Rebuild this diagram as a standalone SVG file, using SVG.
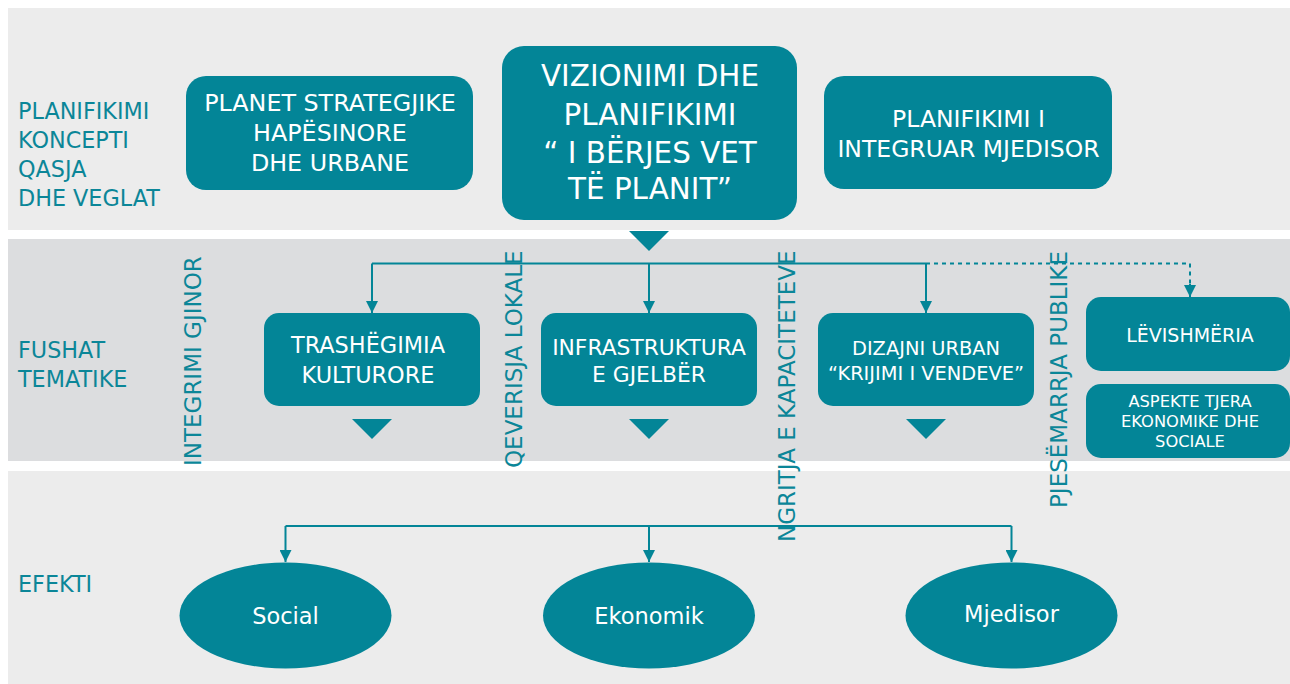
<svg xmlns="http://www.w3.org/2000/svg" width="1290" height="684" viewBox="0 0 1290 684">
<defs>
<style>
.band1{fill:#ececec}
.band2{fill:#dcdddf}
.box{fill:#038597}
.lbl{font-family:"DejaVu Sans","Open Sans",sans-serif;fill:#0b8698;font-size:22.3px}
.rot{font-family:"DejaVu Sans","Open Sans",sans-serif;fill:#0b8698;font-size:23px}
.bt{font-family:"DejaVu Sans","Open Sans",sans-serif;fill:#ffffff;text-anchor:middle}
.ln{fill:none;stroke:#038597;stroke-width:2}
.dot{fill:none;stroke:#038597;stroke-width:2;stroke-dasharray:4 4}
.tri{fill:#038597}
</style>
<marker id="ah" markerUnits="userSpaceOnUse" markerWidth="13" markerHeight="12" viewBox="0 0 12 12" refX="12" refY="6" orient="auto">
<path d="M0,0 L12,6 L0,12 z" fill="#038597"/>
</marker>
</defs>

<g id="bands">
<rect class="band1" x="8" y="8" width="1282" height="222"/>
<rect class="band2" x="8" y="239" width="1282" height="222"/>
<rect class="band1" x="8" y="471" width="1282" height="213"/>
</g>

<g id="row-labels">
<text class="lbl" x="18" y="119">PLANIFIKIMI</text>
<text class="lbl" x="18" y="148">KONCEPTI</text>
<text class="lbl" x="18" y="177">QASJA</text>
<text class="lbl" x="18" y="206">DHE VEGLAT</text>
<text class="lbl" x="18" y="358">FUSHAT</text>
<text class="lbl" x="18" y="387">TEMATIKE</text>
<text class="lbl" x="18" y="592">EFEKTI</text>
</g>

<g id="connectors">
<path class="ln" d="M372,263.5 H926"/>
<path class="ln" d="M372,263.5 V313" marker-end="url(#ah)"/>
<path class="ln" d="M649,263.5 V313" marker-end="url(#ah)"/>
<path class="ln" d="M926,263.5 V313" marker-end="url(#ah)"/>
<path class="dot" d="M926,263.5 H1190 V285"/>
<path class="ln" d="M1190,284 V297" marker-end="url(#ah)"/>
<path class="ln" d="M285.5,526 H1011.5"/>
<path class="ln" d="M285.5,526 V562" marker-end="url(#ah)"/>
<path class="ln" d="M649,526 V562" marker-end="url(#ah)"/>
<path class="ln" d="M1011.5,526 V562" marker-end="url(#ah)"/>
<polygon class="tri" points="629,231 669,231 649,251"/>
<polygon class="tri" points="352,419 392,419 372,439"/>
<polygon class="tri" points="629,419 669,419 649,439"/>
<polygon class="tri" points="906,419 946,419 926,439"/>
</g>

<g id="cross-labels">
<text class="rot" transform="translate(200.5,466) rotate(-90)">INTEGRIMI GJINOR</text>
<text class="rot" transform="translate(522,468) rotate(-90)">QEVERISJA LOKALE</text>
<text class="rot" transform="translate(795,542) rotate(-90)">NGRITJA E KAPACITETEVE</text>
<text class="rot" transform="translate(1067,508) rotate(-90)">PJESËMARRJA PUBLIKE</text>
</g>

<g id="node-planet">
<rect class="box" x="186" y="76" width="287" height="114" rx="20"/>
<text class="bt" font-size="23.8" x="330" y="111">PLANET STRATEGJIKE</text>
<text class="bt" font-size="23.8" x="330" y="141">HAPËSINORE</text>
<text class="bt" font-size="23.8" x="330" y="171">DHE URBANE</text>
</g>

<g id="node-vizionimi">
<rect class="box" x="502" y="46" width="295" height="174" rx="22"/>
<text class="bt" font-size="29.4" x="650" y="86">VIZIONIMI DHE</text>
<text class="bt" font-size="29.4" x="650" y="124.5">PLANIFIKIMI</text>
<text class="bt" font-size="29.4" x="650" y="162.5">“ I BËRJES VET</text>
<text class="bt" font-size="29.4" x="650" y="199">TË PLANIT”</text>
</g>

<g id="node-mjedisor-plan">
<rect class="box" x="824" y="76" width="288" height="113" rx="20"/>
<text class="bt" font-size="23.5" x="968.5" y="126.5">PLANIFIKIMI I</text>
<text class="bt" font-size="23.5" x="968.5" y="156.5">INTEGRUAR MJEDISOR</text>
</g>

<g id="node-trashegimia">
<rect class="box" x="264" y="313" width="216" height="93" rx="15"/>
<text class="bt" font-size="22.4" x="368" y="353">TRASHËGIMIA</text>
<text class="bt" font-size="22.4" x="368" y="382.5">KULTURORE</text>
</g>

<g id="node-infrastruktura">
<rect class="box" x="541" y="313" width="216" height="93" rx="15"/>
<text class="bt" font-size="21.8" x="649" y="355">INFRASTRUKTURA</text>
<text class="bt" font-size="21.8" x="649" y="381.5">E GJELBËR</text>
</g>

<g id="node-dizajni">
<rect class="box" x="818" y="313" width="216" height="93" rx="15"/>
<text class="bt" font-size="19.4" x="926" y="354.5">DIZAJNI URBAN</text>
<text class="bt" font-size="19.4" x="926" y="379.5">“KRIJIMI I VENDEVE”</text>
</g>

<g id="node-levishmeria">
<rect class="box" x="1086" y="297" width="204" height="74" rx="15"/>
<text class="bt" font-size="19" x="1190" y="341.5">LËVISHMËRIA</text>
</g>

<g id="node-aspekte">
<rect class="box" x="1086" y="384" width="204" height="74" rx="15"/>
<text class="bt" font-size="16.3" x="1190" y="406.5">ASPEKTE TJERA</text>
<text class="bt" font-size="16.3" x="1190" y="426.5">EKONOMIKE DHE</text>
<text class="bt" font-size="16.3" x="1190" y="446.5">SOCIALE</text>
</g>

<g id="node-social">
<ellipse class="box" cx="285.5" cy="615.5" rx="106" ry="53"/>
<text class="bt" font-size="22.5" x="285.5" y="624">Social</text>
</g>

<g id="node-ekonomik">
<ellipse class="box" cx="649" cy="615.5" rx="106" ry="53"/>
<text class="bt" font-size="22.5" x="649" y="624">Ekonomik</text>
</g>

<g id="node-mjedisor">
<ellipse class="box" cx="1011.5" cy="615.5" rx="106" ry="53"/>
<text class="bt" font-size="22.5" x="1011.5" y="622">Mjedisor</text>
</g>
</svg>
